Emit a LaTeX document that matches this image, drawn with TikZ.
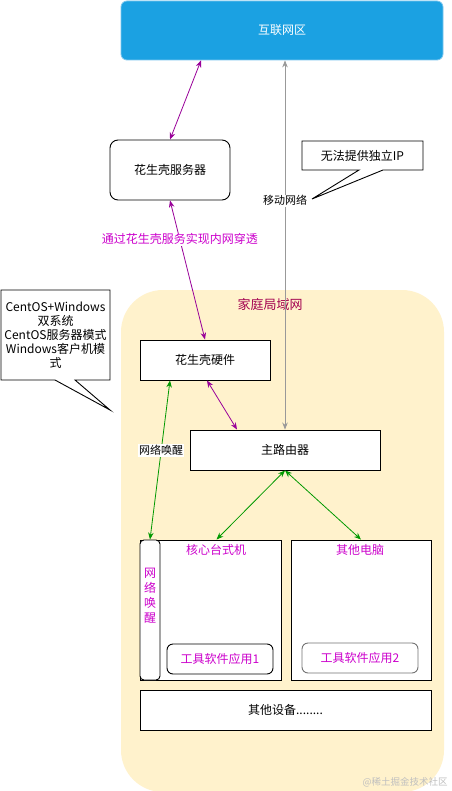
\documentclass[tikz,border=0pt]{standalone}
\usepackage{fontspec}
\setmainfont{Noto Sans CJK SC}
\usetikzlibrary{arrows.meta,calc}
\definecolor{netblue}{HTML}{1BA1E2}
\definecolor{netborder}{HTML}{7CC6EE}
\definecolor{lanfill}{HTML}{FFF2CC}
\definecolor{lantitle}{HTML}{A3004F}
\definecolor{purp}{HTML}{990099}
\definecolor{magent}{HTML}{CC00CC}
\definecolor{grn}{HTML}{009900}
\definecolor{gry}{HTML}{999999}
\begin{document}
\begin{tikzpicture}[x=1pt,y=-1pt,
  txt/.style={font=\fontsize{12pt}{14pt}\selectfont},
  box/.style={draw=black,fill=white,line width=0.9pt,inner sep=0pt,txt},
  rbox/.style={box,rounded corners=8pt},
  tip/.style={Stealth[length=7pt,width=5.5pt]},
  biarr/.style={{Stealth[length=7pt,width=5.5pt]}-{Stealth[length=7pt,width=5.5pt]},line width=0.8pt},
  lbl/.style={fill=white,inner sep=1pt,font=\fontsize{11pt}{13pt}\selectfont,text=black},
  callout/.style={draw=black,fill=white,line width=0.9pt}
]
\useasboundingbox (0,0) rectangle (451,791);
\fill[white] (0,0) rectangle (451,791);

% LAN container
\fill[lanfill,rounded corners=42pt] (121,290) rectangle (444,792);
\node[text=lantitle,font=\fontsize{13pt}{15pt}\selectfont] (lantitle) at (270,305) {家庭局域网};

% Internet
\node[draw=netborder,fill=netblue,rounded corners=6pt,line width=0.8pt,
  minimum width=322pt,minimum height=59pt,text=white,txt] (net) at (282,30.5) {互联网区};

% server
\node[rbox,minimum width=120pt,minimum height=60pt] (srv) at (170,170) {花生壳服务器};

% callout right
\coordinate (c1tip) at (312,199);
\draw[callout] (302,141) -- (423,141) -- (423,170) -- (383,170) -- (c1tip) -- (359,170) -- (302,170) -- cycle;
\node[txt] (c1txt) at (362.5,155.5) {无法提供独立IP};

% callout left
\coordinate (c2tip) at (110,410);
\draw[callout] (1,290) -- (110,290) -- (110,380) -- (75,380) -- (c2tip) -- (55,380) -- (1,380) -- cycle;
\node[txt,align=center] (c2txt) at (55.5,335) {CentOS+Windows\\双系统\\CentOS服务器模式\\Windows客户机模\\式};

% hardware, router
\node[box,minimum width=130pt,minimum height=40pt] (hw) at (205,360) {花生壳硬件};
\node[box,minimum width=190pt,minimum height=40pt] (rt) at (285,450) {主路由器};

% computers
\node[box,minimum width=141pt,minimum height=140pt] (core) at (210.5,610) {};
\node[txt,text=magent] (coretitle) at (216,550) {核心台式机};
\node[draw=black,fill=white,line width=0.9pt,rounded corners=4pt,minimum width=20pt,minimum height=140pt,inner sep=0pt,
  text=magent,txt,align=center] (strip) at (150,610) {};
\node[txt,text=magent,align=center,font=\fontsize{12pt}{15pt}\selectfont] (striptxt) at (150,596) {网\\络\\唤\\醒};
\node[rbox,rounded corners=6pt,minimum width=106pt,minimum height=30pt,text=magent] (app1) at (220,659) {工具软件应用1};

\node[box,minimum width=140pt,minimum height=140pt] (other) at (361,610) {};
\node[txt,text=magent] (othertitle) at (360,550) {其他电脑};
\node[rbox,draw=gray!90!black,rounded corners=6pt,minimum width=116pt,minimum height=30pt,text=magent] (app2) at (360,658) {工具软件应用2};

\node[box,minimum width=291pt,minimum height=40pt] (dev) at (285.5,710) {其他设备........};

% connectors
\draw[biarr,purp] ([xshift=-81pt]net.south) -- (srv.north);
\draw[biarr,gry] (rt.north) -- (rt.north |- net.south)
  node[lbl,pos=0.62] (mobile) {移动网络};
\draw[biarr,purp] (srv.south) -- (hw.north)
  node[pos=0.28,fill=white,inner sep=1pt,text=magent,txt] (via) {通过花生壳服务实现内网穿透};
\draw[biarr,purp] ([xshift=2pt]hw.south) -- ([xshift=-48pt]rt.north);
\draw[biarr,grn] ([xshift=-35pt]hw.south) -- (strip.north)
  node[lbl,pos=0.44] (wol) {网络唤醒};
\draw[biarr,grn] (rt.south) -- ([xshift=6pt]core.north);
\draw[biarr,grn] (rt.south) -- (other.north);

% watermark
\node[text=black!25,font=\fontsize{9.5pt}{11pt}\selectfont] (wm) at (405,782) {@稀土掘金技术社区};
\end{tikzpicture}
\end{document}
